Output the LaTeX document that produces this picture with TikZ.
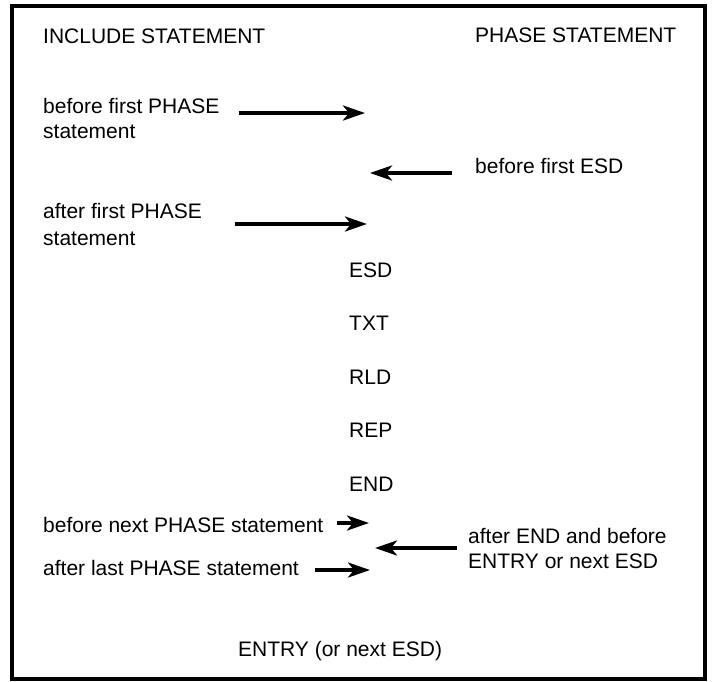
\documentclass[tikz,border=0pt]{standalone}
\usepackage{fontspec}
\setmainfont{Liberation Sans}
\usetikzlibrary{arrows.meta,positioning}

\begin{document}
\begin{tikzpicture}[x=1pt, y=-1pt, node distance=38.7pt,
  lbl/.style={inner sep=0pt, font=\fontsize{21}{25}\selectfont},
  lbltwo/.style={lbl, align=left},
  rec/.style={lbl},
  arr/.style={line width=3.6pt, -{Stealth[length=22pt,width=15pt,inset=6pt]}}]
  \useasboundingbox (0,0) rectangle (712,681);
  \draw[line width=3.2pt] (12,6) rectangle (705,679);
  % column heads
  \node[lbl, anchor=base west] (inc) at (43,43) {INCLUDE STATEMENT};
  \node[lbl, anchor=base west] (pha) at (475,42) {PHASE STATEMENT};
  % labels
  \node[lbltwo, anchor=north west] (bfp) at (43,98) {before first PHASE\\statement};
  \node[lbl, anchor=base west] (bfe) at (475,173) {before first ESD};
  \node[lbltwo, anchor=north west] (afp) at (43,203) {after first PHASE\\[2pt]statement};
  \node[lbl, anchor=base west] (bnp) at (43,532) {before next PHASE statement};
  \node[lbltwo, anchor=north west] (aeb) at (468,528) {after END and before\\ENTRY or next ESD};
  \node[lbl, anchor=base west] (alp) at (43,575) {after last PHASE statement};
  % records
  \node[rec, anchor=base west] (esd) at (349,277) {ESD};
  \node[rec, below=of esd.south west, anchor=north west] (txt) {TXT};
  \node[rec, below=of txt.south west, anchor=north west] (rld) {RLD};
  \node[rec, below=of rld.south west, anchor=north west] (rep) {REP};
  \node[rec, below=of rep.south west, anchor=north west] (end) {END};
  \node[lbl, anchor=base west] (ent) at (238,656) {ENTRY (or next ESD)};
  % arrow ends
  \coordinate (s1) at ([shift={(19pt,-15pt)}]bfp.north east);
  \coordinate (s2) at ([xshift=-23pt]bfe.base west);
  \coordinate (s3) at ([shift={(33pt,-21pt)}]afp.north east);
  \coordinate (s4) at ([shift={(13pt,9pt)}]bnp.base east);
  \coordinate (s5) at ([shift={(-11pt,-20pt)}]aeb.north west);
  \coordinate (s6) at ([shift={(16pt,5pt)}]alp.base east);
  \coordinate (t1) at (365,113);
  \coordinate (t2) at (370,173);
  \coordinate (t3) at (367,224);
  \coordinate (t4) at (369,523);
  \coordinate (t5) at (375,548);
  \coordinate (t6) at (370,570);
  \foreach \a/\b in {s1/t1, s2/t2, s3/t3, s4/t4, s5/t5, s6/t6} {\draw[arr] (\a) -- (\b);}
\end{tikzpicture}
\end{document}
